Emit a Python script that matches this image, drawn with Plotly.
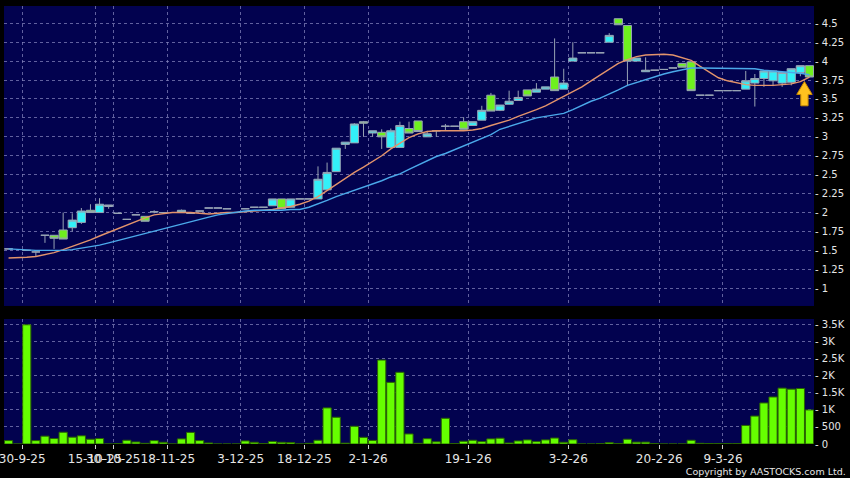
import plotly.graph_objects as go

# ---------------- data ----------------
N = 89
X = list(range(N))

OPEN = [1.52, None, 1.50, 1.48, 1.70, 1.70, 1.77, 1.80, 1.87, 2.03,
        2.00, 2.08, 1.99, 1.91, 1.97, 1.95, 2.01, 2.00, None, 2.00,
        1.99, 2.02, 2.06, 2.06, 2.05, None, 2.05, 2.07, 2.07, 2.09,
        2.18, 2.07, 2.18, 2.18, 2.18, 2.30, 2.54, 2.90, 2.92, 3.20,
        3.05, 3.06, 2.86, 2.86, 3.11, 3.21, 3.00, 3.08, 3.14, 3.14,
        3.20, 3.15, 3.22, 3.55, 3.35, 3.43, 3.48, 3.62, 3.59, 3.63,
        3.79, 3.63, 4.00, 4.11, 4.11, 4.11, 4.25, 4.56, 4.47, 4.00,
        3.86, 3.88, 3.89, 3.91, 3.97, 3.99, 3.55, 3.55, 3.61, 3.61,
        3.61, 3.63, 3.71, 3.77, 3.74, 3.71, 3.72, 3.85, 3.94]
HIGH = [1.52, None, 1.50, 1.48, 1.70, 1.70, 2.00, 1.99, 2.06, 2.11,
        2.19, 2.10, 1.99, 1.91, 1.97, 1.95, 2.03, 2.00, None, 2.04,
        1.99, 2.02, 2.06, 2.06, 2.05, None, 2.05, 2.07, 2.07, 2.18,
        2.18, 2.18, 2.18, 2.18, 2.61, 2.66, 2.85, 2.93, 3.18, 3.21,
        3.08, 3.10, 3.11, 3.20, 3.20, 3.21, 3.08, 3.08, 3.17, 3.14,
        3.26, 3.20, 3.41, 3.58, 3.42, 3.61, 3.61, 3.62, 3.71, 3.66,
        4.30, 3.90, 4.25, 4.11, 4.11, 4.11, 4.37, 4.56, 4.47, 4.04,
        4.05, 3.88, 3.89, 3.91, 3.97, 3.99, 3.55, 3.55, 3.61, 3.61,
        3.61, 3.87, 3.83, 3.87, 3.87, 3.85, 3.90, 3.94, 3.94]
LOW = [1.52, None, 1.50, 1.42, 1.60, 1.52, 1.65, 1.75, 1.85, 2.00,
       2.00, 2.05, 1.99, 1.91, 1.97, 1.885, 1.99, 2.00, None, 2.00,
       1.99, 2.02, 2.06, 2.06, 2.05, None, 2.05, 2.07, 2.07, 2.09,
       2.05, 2.07, 2.18, 2.18, 2.18, 2.30, 2.54, 2.84, 2.92, 3.00,
       3.00, 2.84, 2.86, 2.86, 3.05, 3.07, 3.00, 3.00, 3.08, 3.14,
       3.10, 3.15, 3.22, 3.34, 3.34, 3.43, 3.48, 3.54, 3.59, 3.63,
       3.61, 3.63, 4.00, 4.11, 4.11, 4.11, 4.25, 4.48, 3.67, 4.00,
       3.86, 3.88, 3.89, 3.91, 3.92, 3.61, 3.55, 3.55, 3.61, 3.61,
       3.61, 3.63, 3.40, 3.66, 3.67, 3.66, 3.68, 3.80, 3.79]
CLOSE = [1.52, None, 1.50, 1.48, 1.70, 1.66, 1.65, 1.90, 2.02, 2.00,
         2.11, 2.10, 1.99, 1.91, 1.97, 1.885, 2.01, 2.00, None, 2.03,
         1.99, 2.02, 2.06, 2.06, 2.05, None, 2.05, 2.07, 2.07, 2.18,
         2.05, 2.18, 2.18, 2.18, 2.44, 2.53, 2.85, 2.93, 3.17, 3.18,
         3.08, 3.00, 3.08, 3.15, 3.05, 3.07, 3.04, 3.08, 3.14, 3.14,
         3.10, 3.20, 3.35, 3.34, 3.42, 3.47, 3.52, 3.54, 3.63, 3.66,
         3.61, 3.71, 4.04, 4.11, 4.11, 4.11, 4.34, 4.48, 4.00, 4.04,
         3.88, 3.88, 3.89, 3.91, 3.92, 3.61, 3.55, 3.55, 3.61, 3.61,
         3.61, 3.74, 3.77, 3.87, 3.87, 3.85, 3.90, 3.94, 3.79]

MA_SHORT = [1.40, 1.40, 1.41, 1.42, 1.44, 1.47, 1.51, 1.55, 1.60, 1.64,
            1.69, 1.74, 1.79, 1.84, 1.89, 1.93, 1.97, 1.99, 2.00, 2.00,
            2.00, 1.99, 1.98, 1.99, 2.00, 2.00, 2.01, 2.02, 2.03, 2.04,
            2.06, 2.08, 2.11, 2.15, 2.21, 2.29, 2.38, 2.46, 2.53, 2.60,
            2.67, 2.75, 2.84, 2.92, 2.99, 3.04, 3.07, 3.08, 3.08, 3.08,
            3.08, 3.09, 3.11, 3.15, 3.18, 3.22, 3.27, 3.31, 3.36, 3.41,
            3.47, 3.53, 3.60, 3.66, 3.74, 3.82, 3.90, 3.97, 4.02, 4.06,
            4.08, 4.09, 4.09, 4.08, 4.05, 4.01, 3.93, 3.85, 3.78, 3.74,
            3.71, 3.69, 3.68, 3.68, 3.68, 3.69, 3.70, 3.73, 3.79]
MA_LONG = [1.52, 1.51, 1.50, 1.50, 1.50, 1.50, 1.50, 1.51, 1.53, 1.55,
           1.57, 1.60, 1.63, 1.66, 1.69, 1.72, 1.76, 1.79, 1.82, 1.85,
           1.88, 1.91, 1.94, 1.97, 1.99, 2.01, 2.02, 2.03, 2.03, 2.03,
           2.03, 2.04, 2.04, 2.07, 2.11, 2.16, 2.21, 2.25, 2.29, 2.33,
           2.37, 2.42, 2.47, 2.51, 2.57, 2.63, 2.69, 2.74, 2.78, 2.83,
           2.88, 2.92, 2.97, 3.03, 3.10, 3.14, 3.18, 3.22, 3.25, 3.27,
           3.29, 3.31, 3.36, 3.42, 3.47, 3.51, 3.56, 3.62, 3.68, 3.72,
           3.75, 3.79, 3.83, 3.86, 3.89, 3.91, 3.91, 3.91, 3.91, 3.91,
           3.91, 3.91, 3.90, 3.88, 3.87, 3.86, 3.85, 3.84, 3.82]

VOLUME = [100, 0, 3500, 100, 230, 160, 345, 200, 240, 140,
          160, 0, 10, 110, 60, 20, 100, 50, 0, 150,
          340, 100, 30, 0, 0, 0, 90, 50, 10, 75,
          50, 45, 0, 20, 110, 1060, 785, 25, 520, 195,
          105, 2465, 1810, 2105, 295, 20, 155, 65, 755, 10,
          80, 110, 70, 150, 170, 30, 90, 120, 70, 120,
          175, 50, 125, 0, 0, 10, 40, 10, 140, 55,
          55, 15, 0, 0, 0, 110, 20, 15, 10, 10,
          10, 545, 820, 1205, 1380, 1640, 1610, 1630, 1000]

DATE_TICK_INDEX = [1.5, 9.5, 11.5, 17.5, 25.5, 32.5, 39.5, 50.5, 61.5, 71.5, 78.5]
DATE_TICK_LABELS = ["30-9-25", "15-10-25", "30-10-25", "18-11-25", "3-12-25",
                    "18-12-25", "2-1-26", "19-1-26", "3-2-26", "20-2-26", "9-3-26"]

PRICE_TICKS = [1, 1.25, 1.5, 1.75, 2, 2.25, 2.5, 2.75, 3, 3.25, 3.5, 3.75, 4, 4.25, 4.5]
PRICE_TICK_LABELS = ["1", "1.25", "1.5", "1.75", "2", "2.25", "2.5", "2.75", "3",
                     "3.25", "3.5", "3.75", "4", "4.25", "4.5"]
VOL_TICKS = [0, 500, 1000, 1500, 2000, 2500, 3000, 3500]
VOL_TICK_LABELS = ["0", "500", "1K", "1.5K", "2K", "2.5K", "3K", "3.5K"]

ARROW_INDEX = 87.45
ARROW_TIP = 3.73

# ---------------- styles ----------------
BG = "#02024f"
GRID = "rgba(130,130,185,0.75)"
CYAN = "#33F0F8"
GREEN = "#6EF01E"
EDGE = "#98a4b4"
FONT = "DejaVu Sans"
TXT = "#e6e6e6"

fig = go.Figure()

fig.add_trace(go.Candlestick(
    x=X, open=OPEN, high=HIGH, low=LOW, close=CLOSE,
    increasing=dict(fillcolor=CYAN, line=dict(color=EDGE, width=1)),
    decreasing=dict(fillcolor=GREEN, line=dict(color=EDGE, width=1)),
    whiskerwidth=0, xaxis="x", yaxis="y", showlegend=False, hoverinfo="skip",
))
fig.add_trace(go.Scatter(x=X, y=MA_SHORT, mode="lines", xaxis="x", yaxis="y",
                         line=dict(color="#E3946C", width=1.4), showlegend=False,
                         hoverinfo="skip"))
fig.add_trace(go.Scatter(x=X, y=MA_LONG, mode="lines", xaxis="x", yaxis="y",
                         line=dict(color="#4BA9EA", width=1.4), showlegend=False,
                         hoverinfo="skip"))
fig.add_trace(go.Bar(x=X, y=VOLUME, xaxis="x2", yaxis="y2", showlegend=False,
                     marker=dict(color="#66FF00", line=dict(color="#2a6400", width=1)),
                     hoverinfo="skip"))

# gold arrow marker near the latest candle
ax, tip = ARROW_INDEX, ARROW_TIP
base, bottom = tip - 0.17, tip - 0.32
hw, sw = 0.85, 0.40
arrow_path = (f"M {ax},{tip} L {ax+hw},{base} L {ax+sw},{base} L {ax+sw},{bottom} "
              f"L {ax-sw},{bottom} L {ax-sw},{base} L {ax-hw},{base} Z")
fig.add_shape(type="path", path=arrow_path, xref="x", yref="y",
              fillcolor="#FFC21F", line=dict(color="#C98A00", width=1), layer="above")

common_x = dict(range=[-0.5, 88.5], tickvals=DATE_TICK_INDEX, showgrid=True,
                gridcolor=GRID, griddash="3px,3px", gridwidth=1, zeroline=False,
                showline=False, fixedrange=True, automargin=False)

fig.update_layout(
    width=850, height=478,
    margin=dict(l=4, r=36, t=6, b=34, autoexpand=False),
    paper_bgcolor="#000000", plot_bgcolor=BG,
    boxgap=0.1, boxgroupgap=0.0, bargap=0.1,
    font=dict(family=FONT, color=TXT, size=10),
    title=dict(text="Copyright by AASTOCKS.com Ltd.", xref="container", yref="container",
               x=0.995, y=0.0136, xanchor="right", yanchor="middle",
               font=dict(family=FONT, size=9.5, color=TXT)),
    xaxis=dict(domain=[0, 1], anchor="y", showticklabels=False, ticks="",
               rangeslider=dict(visible=False), **common_x),
    xaxis2=dict(domain=[0, 1], anchor="y2", matches="x", ticktext=DATE_TICK_LABELS,
                ticks="outside", ticklen=4, tickcolor="#cfcfcf", tickangle=0,
                ticklabeloverflow="allow",
                tickfont=dict(family=FONT, size=12, color=TXT), **common_x),
    yaxis=dict(domain=[0.3151, 1], anchor="x", side="right", range=[0.766, 4.728],
               tickvals=PRICE_TICKS, ticktext=["- " + t for t in PRICE_TICK_LABELS],
               ticks="", showgrid=True, gridcolor=GRID, griddash="3px,3px",
               zeroline=False, showline=False, fixedrange=True, automargin=False,
               tickfont=dict(family=FONT, size=10, color=TXT)),
    yaxis2=dict(domain=[0, 0.2854], anchor="x2", side="right", range=[0, 3670],
                tickvals=VOL_TICKS, ticktext=["- " + t for t in VOL_TICK_LABELS],
                ticks="", showgrid=True, gridcolor=GRID, griddash="3px,3px",
                zeroline=False, showline=False, fixedrange=True, automargin=False,
                tickfont=dict(family=FONT, size=10, color=TXT)),
)

fig.write_html("out.html", config={"displayModeBar": False},
               post_script="document.body.style.margin='0';document.body.style.background='#000';")
